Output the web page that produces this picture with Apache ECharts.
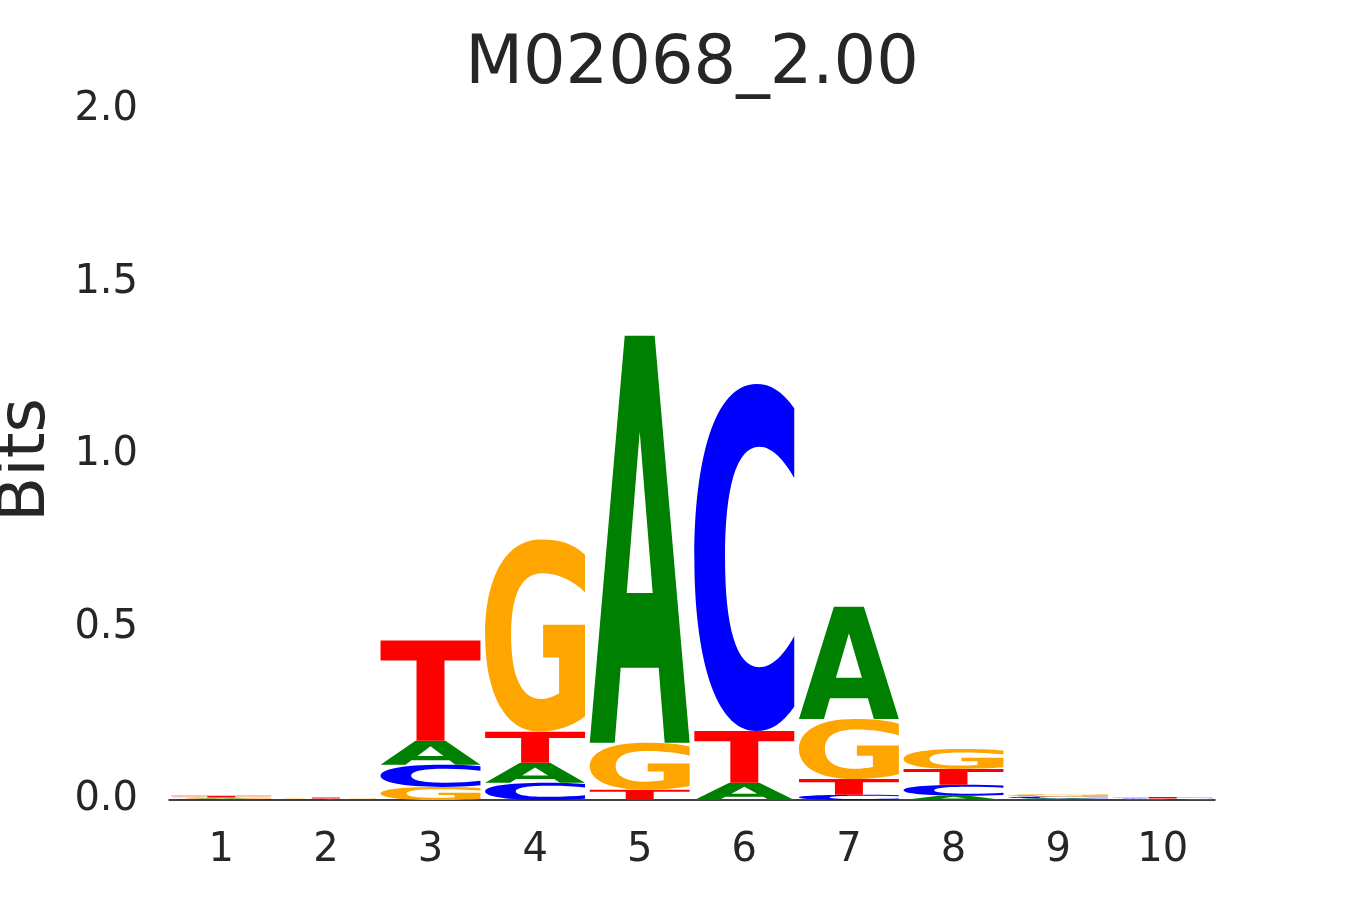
<!DOCTYPE html>
<html>
<head>
<meta charset="utf-8">
<script src="https://cdn.jsdelivr.net/npm/echarts@6/dist/echarts.min.js"></script>
<style>html,body{margin:0;padding:0;background:#fff;}#c{width:1350px;height:900px;}</style>
</head>
<body>
<div id="c"></div>
<script>
// Positions (x-axis categories)
const positions = ['1','2','3','4','5','6','7','8','9','10'];
// Information content (bits) per letter at each position
const A = [0.0025, 0.0015, 0.070, 0.058, 1.180, 0.050, 0.325, 0.012, 0.003, 0.0015];
const C = [0.0015, 0.0010, 0.064, 0.050, 0.000, 1.006, 0.015, 0.032, 0.005, 0.0020];
const G = [0.0030, 0.0020, 0.038, 0.557, 0.136, 0.000, 0.174, 0.058, 0.007, 0.0010];
const T = [0.0050, 0.0030, 0.290, 0.090, 0.030, 0.150, 0.046, 0.046, 0.002, 0.0040];
const yTicks = [0, 0.5, 1.0, 1.5, 2.0];

const letters = ['A','C','G','T'];
const colors = {A:'#008000', C:'#0000ff', G:'#ffa500', T:'#ff0000'};
const glyphs = {
  A: 'M0,100 L35,0 L65,0 L100,100 L75,100 L69,81.6 L31,81.6 L25,100 Z M37,63.2 L63,63.2 L50,23.6 Z',
  C: 'M100,7 C88,2 76,0 62,0 C20,0 0,22 0,50 C0,78 20,100 62,100 C76,100 88,98 100,93 L100,72.6 C90,78 78,81.6 65,81.6 C42,81.6 30.7,70 30.7,50 C30.7,30 42,18.1 65,18.1 C78,18.1 90,22 100,27.1 Z',
  G: 'M100,7.9 C88,2 74,0 56,0 C18,0 0,22 0,50 C0,80 20,100 54,100 C72,100 88,97 100,92 L100,44.4 L58,44.4 L58,61.4 L74,61.4 L74,80 C68,82 62,83 56,83 C37,83 26,72 26,50 C26,28 37,17.5 57,17.5 C72,17.5 88,21 100,27.5 Z',
  T: 'M0,0 L100,0 L100,20 L64,20 L64,100 L36,100 L36,20 L0,20 Z'
};
const vals = {A, C, G, T};

// Build stacked table: [posIndex, y0, y1, letterIndex]
const table = [];
positions.forEach((p, i) => {
  const items = letters.map((L, li) => ({li, v: vals[L][i]})).filter(o => o.v > 0);
  items.sort((a, b) => a.v - b.v);
  let base = 0;
  items.forEach(o => { table.push([i, base, base + o.v, o.li]); base += o.v; });
});

const chart = echarts.init(document.getElementById('c'), null, {renderer: 'canvas'});
const font = 'DejaVu Sans';
chart.setOption({
  animation: false,
  backgroundColor: '#ffffff',
  grid: {left: 169, right: 135, top: 110, bottom: 100, containLabel: false},
  graphic: [
    {type: 'text', x: 692, y: 66,
     style: {text: 'M02068_2.00', font: '67px "DejaVu Sans"', fill: '#262626', align: 'center', verticalAlign: 'middle'}},
    {type: 'text', x: 27, y: 460, rotation: Math.PI / 2,
     style: {text: 'Bits', font: '66px "DejaVu Sans"', fill: '#262626', align: 'center', verticalAlign: 'middle'}}
  ],
  xAxis: {
    type: 'category', data: positions, boundaryGap: true,
    axisLine: {show: true, lineStyle: {color: '#000', width: 1.5}},
    axisTick: {show: false},
    axisLabel: {fontFamily: font, fontSize: 40, color: '#262626', margin: 31},
    splitLine: {show: false}
  },
  yAxis: {
    type: 'value', min: 0, max: 2, interval: 0.5,
    axisLine: {show: false}, axisTick: {show: false}, splitLine: {show: false},
    axisLabel: {fontFamily: font, fontSize: 40, color: '#262626', margin: 31,
      padding: [6, 0, 0, 0],
      formatter: v => yTicks.includes(v) ? v.toFixed(1) : ''}
  },
  series: [{
    type: 'custom',
    data: table,
    encode: {x: 0, y: [1, 2]},
    renderItem: function (params, api) {
      const i = api.value(0), y0 = api.value(1), y1 = api.value(2), li = api.value(3);
      const band = api.size([1, 0])[0];
      const w = band * 0.955;
      const c = api.coord([i, y1]);
      const b = api.coord([i, y0]);
      const L = letters[li];
      const h = Math.max(b[1] - c[1], 0.01);
      return {
        type: 'path',
        shape: {pathData: glyphs[L], x: c[0] - w / 2, y: c[1], width: w, height: h, layout: 'cover'},
        style: {fill: colors[L]}
      };
    }
  }]
});
</script>
</body>
</html>
